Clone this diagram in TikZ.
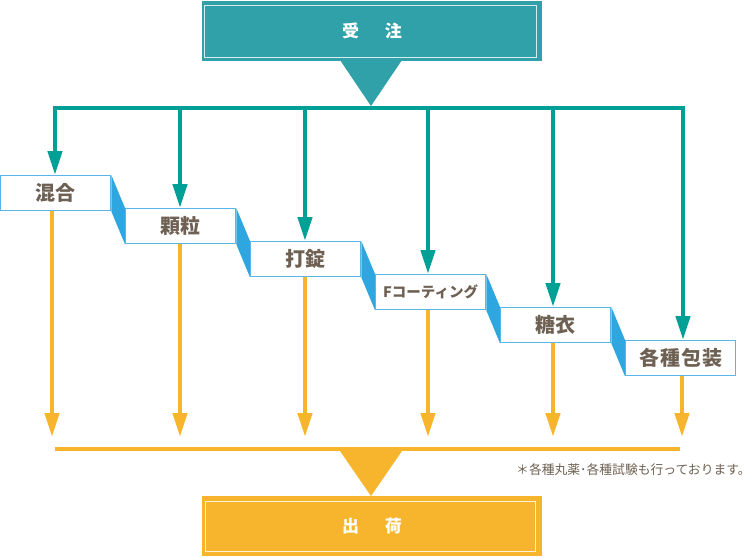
\documentclass[tikz,border=0pt]{standalone}
\usepackage{fontspec}
\newfontfamily\jp{Noto Sans CJK JP}
\usetikzlibrary{arrows.meta}
\definecolor{tealbox}{HTML}{31A1A9}
\definecolor{tealline}{HTML}{00A096}
\definecolor{stepblue}{HTML}{2EA6E0}
\definecolor{boxedge}{HTML}{5AB6E8}
\definecolor{orange}{HTML}{F6B52C}
\definecolor{labeltext}{HTML}{6E6153}
\tikzset{
  procbox/.style={draw=boxedge, line width=1.3pt, fill=white, minimum width=110pt,
    minimum height=35pt, inner sep=0pt, anchor=north west, text=labeltext,
    font=\jp\bfseries\fontsize{20}{20}\selectfont},
  tealarrow/.style={draw=tealline, line width=4.5pt, -{Triangle[width=14pt,length=24pt]}},
  orangearrow/.style={draw=orange, line width=4.5pt, -{Triangle[width=14pt,length=24pt]}},
  tealbar/.style={draw=tealline, line width=4.5pt},
  orangebar/.style={draw=orange, line width=4.5pt},
  stepface/.style={fill=stepblue},
  endbox/.style={minimum width=340pt, minimum height=60pt, inner sep=0pt,
    text=white, font=\jp\bfseries\fontsize{17}{17}\selectfont},
  innerline/.style={draw=white!80!#1, line width=1pt},
  notetext/.style={text=labeltext, font=\jp\fontsize{12.8}{12.8}\selectfont, anchor=west, inner sep=0pt}
}
\begin{document}
\begin{tikzpicture}[x=1pt,y=-1pt]
\useasboundingbox (0,0) rectangle (754,557);
% top box
\node[endbox, fill=tealbox] (order) at (372,31) {受\hspace{26pt}注};
\draw[innerline=tealbox] (204,5) rectangle (536,57);
\fill[tealbox] (340,60) -- (402,60) -- (371,106) -- cycle;
% process boxes
\node[procbox] (b1) at (0,175) {};
\node[procbox] (b2) at (125,208) {};
\node[procbox] (b3) at (250,241) {};
\node[procbox] (b4) at (375,274) {};
\node[procbox] (b5) at (500,307) {};
\node[procbox] (b6) at (625,340) {};
% step faces
\foreach \a/\b in {b1/b2,b2/b3,b3/b4,b4/b5,b5/b6}{
  \fill[stepface] (\a.north east) -- (\b.north west) -- (\b.south west) -- (\a.south east) -- cycle;
}
% labels (redrawn over)
\node[procbox] at (0,175) {混合};
\node[procbox] at (125,208) {顆粒};
\node[procbox] at (250,241) {打錠};
\node[procbox, font=\jp\bfseries\fontsize{14.5}{14.5}\selectfont] at (375,274) {Fコーティング};
\node[procbox] at (500,307) {糖衣};
\node[procbox] at (625,340) {各\hspace{1pt}種\hspace{1pt}包\hspace{1pt}装};
% teal distribution
\coordinate (t1) at (55,108);
\coordinate (t2) at (180,108);
\coordinate (t3) at (305,108);
\coordinate (t4) at (428,108);
\coordinate (t5) at (553,108);
\coordinate (t6) at (683,108);
\draw[tealbar] ([xshift=-2.25pt]t1) -- ([xshift=2.25pt]t6);
\draw[tealarrow] (t1) -- (t1 |- b1.north);
\draw[tealarrow] (t2) -- (t2 |- b2.north);
\draw[tealarrow] (t3) -- (t3 |- b3.north);
\draw[tealarrow] (t4) -- (t4 |- b4.north);
\draw[tealarrow] (t5) -- (t5 |- b5.north);
\draw[tealarrow] (t6) -- (t6 |- b6.north);
% orange collection
\coordinate (o1) at (52,437);
\coordinate (o2) at (180,437);
\coordinate (o3) at (305,437);
\coordinate (o4) at (428,437);
\coordinate (o5) at (553,437);
\coordinate (o6) at (682,437);
\draw[orangearrow] (o1 |- b1.south) -- (o1);
\draw[orangearrow] (o2 |- b2.south) -- (o2);
\draw[orangearrow] (o3 |- b3.south) -- (o3);
\draw[orangearrow] (o4 |- b4.south) -- (o4);
\draw[orangearrow] (o5 |- b5.south) -- (o5);
\draw[orangearrow] (o6 |- b6.south) -- (o6);
\coordinate (h1) at (55,449);
\coordinate (h2) at (680,449);
\draw[orangebar] (h1) -- (h2);
\fill[orange] (340,451) -- (402,451) -- (371,496) -- cycle;
% bottom box
\node[endbox, fill=orange] (ship) at (372,526) {出\hspace{26pt}荷};
\draw[innerline=orange] (205,501) rectangle (535,551);
% note
\node[notetext] (note) at (516,470) {＊各種丸薬･各種試験も行っております。};
\end{tikzpicture}
\end{document}
